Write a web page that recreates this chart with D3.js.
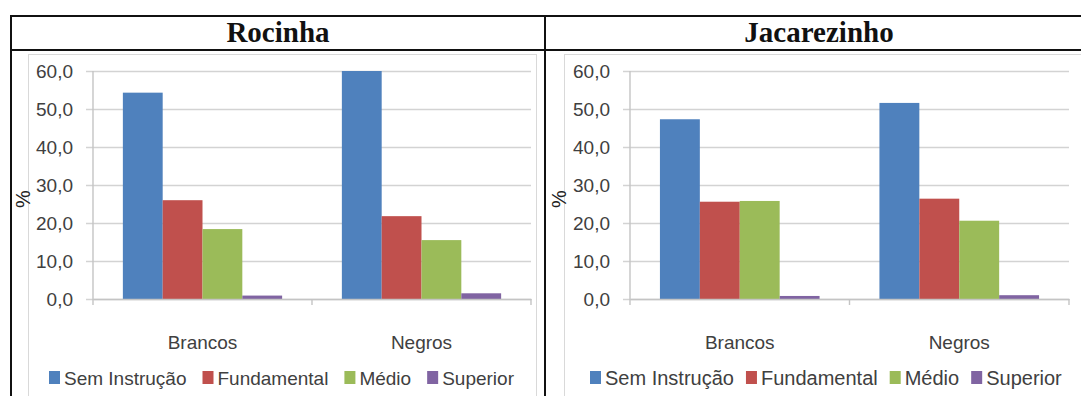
<!DOCTYPE html>
<html>
<head>
<meta charset="utf-8">
<script src="https://cdn.jsdelivr.net/npm/d3@7"></script>
<style>
  html, body { margin: 0; padding: 0; background: #fff; }
  svg { display: block; }
  text { font-family: "Liberation Sans", Arial, sans-serif; }
</style>
</head>
<body>
<svg id="chart" width="1081" height="396"></svg>
<script>
// Escolaridade por cor/raça (%), Rocinha e Jacarezinho
const categories = ["Brancos", "Negros"];
const series = ["Sem Instrução", "Fundamental", "Médio", "Superior"];
const colors = ["#4F81BD", "#C0504D", "#9BBB59", "#8064A2"];
const rocinhaBrancos = [54.3, 26.0, 18.4, 0.9];
const rocinhaNegros = [60.0, 21.8, 15.5, 1.5];
const jacarezinhoBrancos = [47.3, 25.6, 25.8, 0.8];
const jacarezinhoNegros = [51.6, 26.4, 20.6, 1.0];
const yTicks = [0, 10, 20, 30, 40, 50, 60];

const panels = [
  { title: "Rocinha", values: [rocinhaBrancos, rocinhaNegros],
    cellX0: 11, cellX1: 545, boxX: 28, boxX1: 536, plotX0: 93, plotX1: 531,
    legendX: 49, legendFont: 19, legendGap: 16 },
  { title: "Jacarezinho", values: [jacarezinhoBrancos, jacarezinhoNegros],
    cellX0: 545, cellX1: 1093, boxX: 564, boxX1: 1100, plotX0: 630, plotX1: 1069,
    legendX: 590, legendFont: 20, legendGap: 12 }
];

const svg = d3.select("#chart");
const y = d3.scaleLinear().domain([0, 60]).range([299, 71]);
const fmt = d => d.toFixed(1).replace(".", ",");

panels.forEach(p => {
  const g = svg.append("g");

  // chart area frame
  g.append("rect")
    .attr("x", p.boxX + 0.5).attr("y", 54.5)
    .attr("width", p.boxX1 - p.boxX).attr("height", 400)
    .attr("fill", "#fff").attr("stroke", "#d9d9d9").attr("stroke-width", 1);

  // title
  g.append("text")
    .attr("x", (p.cellX0 + p.cellX1) / 2).attr("y", 42)
    .attr("text-anchor", "middle")
    .style("font-family", "'Liberation Serif', 'Times New Roman', serif")
    .style("font-weight", "bold").style("font-size", "29px")
    .attr("fill", "#111")
    .text(p.title);

  // value axis with gridlines
  const gridStart = p.plotX0 - 7;
  const yAxis = d3.axisLeft(y).tickValues(yTicks).tickFormat(fmt)
    .tickSizeInner(-(p.plotX1 - gridStart)).tickSizeOuter(0).tickPadding(13);
  const ya = g.append("g").attr("transform", `translate(${gridStart},0)`).call(yAxis);
  ya.select(".domain").remove();
  ya.selectAll(".tick line").attr("stroke", "#d3d3d3").attr("stroke-width", 1.6);
  ya.selectAll(".tick text")
    .style("font-size", "19px").attr("fill", "#404040");

  // vertical axis line
  g.append("line")
    .attr("x1", p.plotX0).attr("x2", p.plotX0)
    .attr("y1", y(60)).attr("y2", y(0))
    .attr("stroke", "#c4c4c4").attr("stroke-width", 1.4);

  // category scale
  const x0 = d3.scaleBand().domain(categories).range([p.plotX0, p.plotX1]);
  const groupW = x0.step() * 4 / (4 + 1.5);
  const x1 = d3.scaleBand().domain(series)
    .range([(x0.step() - groupW) / 2, (x0.step() + groupW) / 2]);

  // bars
  categories.forEach((c, ci) => {
    g.append("g")
      .attr("transform", `translate(${x0(c)},0)`)
      .selectAll("rect")
      .data(series.map((s, si) => ({ s, v: p.values[ci][si], color: colors[si] })))
      .join("rect")
      .attr("x", d => x1(d.s))
      .attr("width", x1.bandwidth())
      .attr("y", d => y(d.v))
      .attr("height", d => y(0) - y(d.v))
      .attr("fill", d => d.color);
  });

  // category axis
  const xAxis = d3.axisBottom(x0).tickSize(0).tickPadding(37);
  const xa = g.append("g").attr("transform", `translate(0,${y(0)})`).call(xAxis);
  xa.select(".domain").attr("stroke", "#c4c4c4").attr("stroke-width", 1.4);
  xa.selectAll(".tick text").style("font-size", "19px").attr("fill", "#404040");

  // boundary tick marks between categories
  const bounds = categories.map(c => x0(c)).concat([p.plotX1]);
  g.selectAll(".bound").data(bounds).join("line")
    .attr("x1", d => d).attr("x2", d => d)
    .attr("y1", y(0)).attr("y2", y(0) + 6)
    .attr("stroke", "#c4c4c4").attr("stroke-width", 1.4);

  // legend
  const lg = g.append("g");
  let lx = p.legendX;
  series.forEach((s, si) => {
    lg.append("rect")
      .attr("x", lx).attr("y", 371).attr("width", 11).attr("height", 13)
      .attr("fill", colors[si]);
    const t = lg.append("text")
      .attr("x", lx + 15).attr("y", 385)
      .style("font-size", p.legendFont + "px").attr("fill", "#404040")
      .text(s);
    lx += 15 + t.node().getComputedTextLength() + p.legendGap;
  });

  // axis title
  g.append("text")
    .attr("transform", `translate(${p.boxX - 5},199) rotate(-90)`)
    .attr("text-anchor", "middle").attr("dominant-baseline", "central")
    .style("font-size", "20px").attr("fill", "#222")
    .text("%");
});

// table borders
const border = svg.append("g").attr("stroke", "#111").attr("stroke-width", 2);
border.append("line").attr("x1", 10).attr("x2", 1081).attr("y1", 16).attr("y2", 16);
border.append("line").attr("x1", 10).attr("x2", 1081).attr("y1", 50).attr("y2", 50);
border.append("line").attr("x1", 11).attr("x2", 11).attr("y1", 15).attr("y2", 396);
border.append("line").attr("x1", 545).attr("x2", 545).attr("y1", 15).attr("y2", 396);
</script>
</body>
</html>
